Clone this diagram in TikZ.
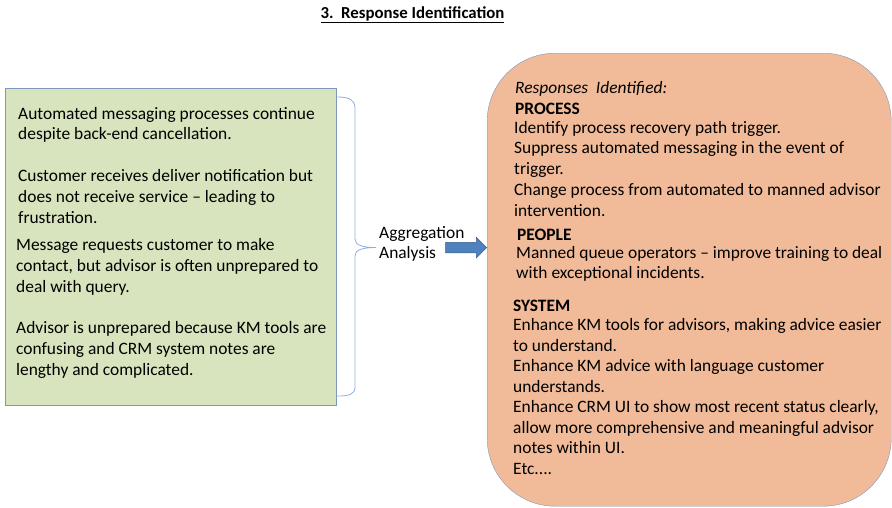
\documentclass[tikz,border=0pt]{standalone}
\usepackage{fontspec}
\setmainfont{Carlito}
\usetikzlibrary{shapes.arrows}
\definecolor{causegreen}{HTML}{D7E4BD}
\definecolor{responseorange}{HTML}{F1BB99}
\definecolor{edgeblue}{HTML}{7F97BD}
\definecolor{bracecol}{HTML}{8DB0DC}
\definecolor{arrowfill}{HTML}{4F81BD}
\definecolor{arrowedge}{HTML}{385D8A}
\begin{document}
\begin{tikzpicture}[x=1pt,y=-1pt]
\tikzstyle{bodytext} = [anchor=north west,inner sep=0pt,align=left,font=\fontsize{17.4}{20.8}\selectfont,execute at begin node=\strut]
\tikzstyle{headtext} = [bodytext,font=\fontsize{17.4}{20.8}\selectfont\bfseries]
  \useasboundingbox (0,0) rectangle (892,507);
  %title
  \node[anchor=base,inner sep=0pt,font=\fontsize{16.8}{18}\selectfont\bfseries] (title) at (412.5,18.3) {\underline{3.\ \ Response Identification}};
  %left box
  \node[draw=edgeblue,fill=causegreen,anchor=north west,minimum width=331,minimum height=317,inner sep=0pt] (causes) at (5,88) {};
    \node[bodytext] (cause1) at (18,106.8) {Automated messaging processes continue\\despite back-end cancellation.};
    \node[bodytext] (cause2) at (18,169.2) {Customer receives deliver notification but\\does not receive service -- leading to\\frustration.};
    \node[bodytext] (cause3) at (16,238.2) {Message requests customer to make\\contact, but advisor is often unprepared to\\deal with query.};
    \node[bodytext] (cause4) at (16,321.5) {Advisor is unprepared because KM tools are\\confusing and CRM system notes are\\lengthy and complicated.};
  %brace
  \draw[bracecol,line width=0.8pt] (causes.north east) ++(1,9) coordinate (bracetop)
    .. controls +(12,0) and +(0,-8) .. (355,108) -- (355,239)
    .. controls (355,245) and (362,247.5) .. (376,247.5) coordinate (bracetip)
    .. controls (362,247.5) and (355,250) .. (355,256) -- (355,387)
    .. controls (355,394) and (350,396) .. (337,396) coordinate (bracebottom);
  %aggregation
  \node[bodytext] (agglabel) at (379,225.8) {Aggregation\\Analysis};
  %right box
  \node[draw=edgeblue,fill=responseorange,rounded corners=68pt,anchor=north west,minimum width=404,minimum height=453,inner sep=0pt] (responses) at (487,53) {};
  \node[single arrow,fill=arrowfill,draw=arrowedge,line width=0.5pt,anchor=tip,minimum height=41,inner xsep=0pt,inner ysep=5pt,single arrow head extend=5pt,single arrow tip angle=90] (aggarrow) at (responses.west |- bracetip) {};
    \node[bodytext,font=\fontsize{17.4}{20.8}\selectfont\itshape] (resphead) at (515,79.2) {Responses\ \ Identified:};
    \node[headtext] (processhead) at (515,100.2) {PROCESS};
    \node[bodytext] (processtext) at (514,120.8) {Identify process recovery path trigger.\\Suppress automated messaging in the event of\\trigger.\\Change process from automated to manned advisor\\intervention.};
    \node[headtext] (peoplehead) at (517,225.8) {PEOPLE};
    \node[bodytext] (peopletext) at (516,245.8) {Manned queue operators -- improve training to deal\\with exceptional incidents.};
    \node[headtext] (systemhead) at (513,296.5) {SYSTEM};
    \node[bodytext,font=\fontsize{17.4}{20.5}\selectfont] (systemtext) at (513,318.7) {Enhance KM tools for advisors, making advice easier\\to understand.\\Enhance KM advice with language customer\\understands.\\Enhance CRM UI to show most recent status clearly,\\allow more comprehensive and meaningful advisor\\notes within UI.\\Etc....};
\end{tikzpicture}
\end{document}
